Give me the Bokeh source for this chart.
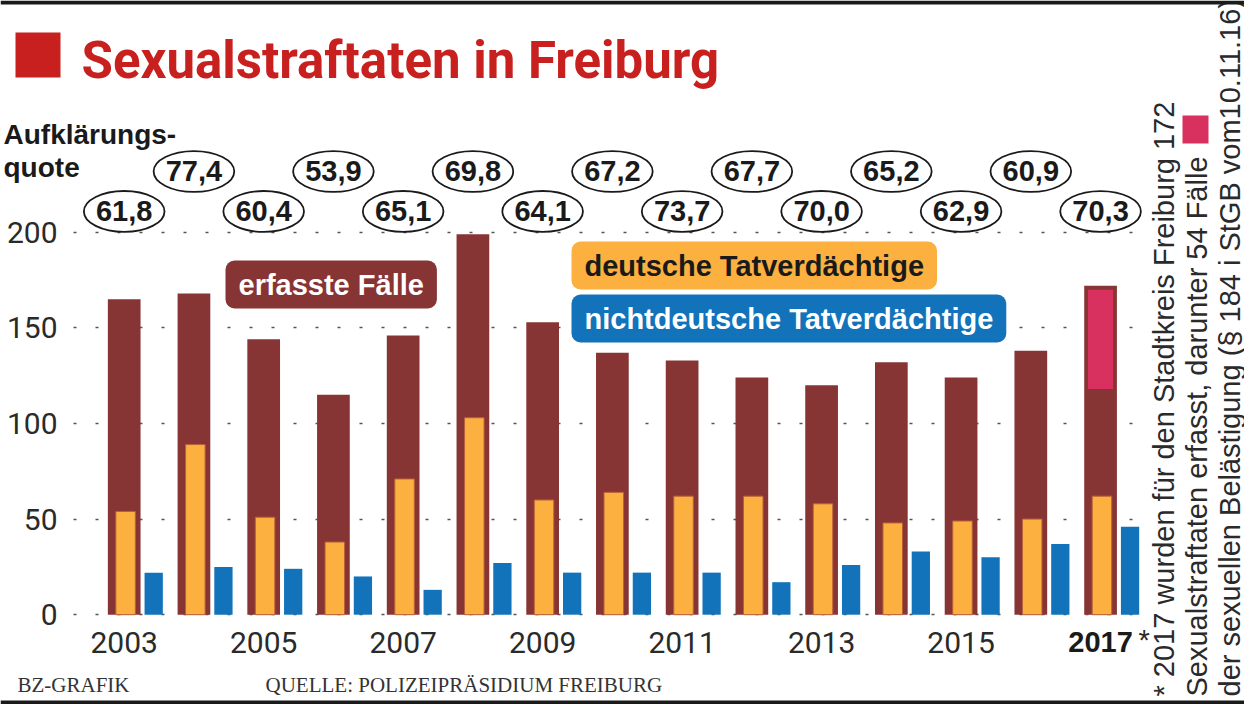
from math import pi
from bokeh.plotting import figure
from bokeh.models import Range1d, FixedTicker, Label, BoxAnnotation, ColumnDataSource, LinearAxis
from bokeh.embed import file_html
from bokeh.resources import INLINE
from bokeh.core.properties import value

# ---------------- data ----------------
years = list(range(2003, 2018))
erfasste_faelle = [165, 168, 144, 115, 146, 199, 153, 137, 133, 124, 120, 132, 124, 138, 172]
deutsche = [54, 89, 51, 38, 71, 103, 60, 64, 62, 62, 58, 48, 49, 50, 62]
nichtdeutsche = [22, 25, 24, 20, 13, 27, 22, 22, 22, 17, 26, 33, 30, 37, 46]
aufklaerungsquote = [61.8, 77.4, 60.4, 53.9, 65.1, 69.8, 64.1, 67.2, 73.7, 67.7, 70.0, 65.2, 62.9, 60.9, 70.3]
belaestigung_2017 = 54
x_tick_years = [2003, 2005, 2007, 2009, 2011, 2013, 2015]
y_ticks = [0, 50, 100, 150, 200]

title_text = "Sexualstraftaten in Freiburg"
quote_title = ["Aufklärungs-", "quote"]
legend_texts = ["erfasste Fälle", "deutsche Tatverdächtige", "nichtdeutsche Tatverdächtige"]
footnote = ["* 2017 wurden für den Stadtkreis Freiburg 172",
            "Sexualstraftaten erfasst, darunter 54 Fälle",
            "der sexuellen Belästigung (§ 184 i StGB vom10.11.16)"]
footer_left = "BZ-GRAFIK"
footer_right = "QUELLE: POLIZEIPRÄSIDIUM FREIBURG"

# ---------------- style ----------------
DARK = "#873434"
ORANGE = "#FBB040"
BLUE = "#1273BA"
PINK = "#D8305F"
RED = "#C8201E"
TXT = "#2a2a2a"
SANS = "Liberation Sans"
ROBOTO = "Roboto"
SERIF = "Liberation Serif"

W, H = 1244, 704
PX_YEAR = 69.74           # px per year
PX_UNIT = 1.912           # px per case
X_2003 = 123.7            # px of 2003 bar centre
Y_ZERO = 614.2            # px of zero line
x0 = 2003 - X_2003 / PX_YEAR
x1 = x0 + W / PX_YEAR
y1 = Y_ZERO / PX_UNIT
y0 = y1 - H / PX_UNIT


def xv(px):
    return x0 + px / PX_YEAR


p = figure(width=W, height=H, output_backend="svg", toolbar_location=None,
           x_range=Range1d(x0, x1), y_range=Range1d(y0, y1),
           min_border=0, title=None, x_axis_location=None, y_axis_location=None)
p.outline_line_color = None
p.background_fill_color = "white"
p.border_fill_color = "white"


def style_axis(ax, size="30px", bold=False):
    ax.axis_line_color = None
    ax.major_tick_line_color = None
    ax.minor_tick_line_color = None
    ax.major_label_text_font = ROBOTO if not bold else SANS
    ax.major_label_text_font_style = "bold" if bold else "normal"
    ax.major_label_text_font_size = size
    ax.major_label_text_color = TXT if not bold else "#1a1a1a"


yaxis = LinearAxis(ticker=FixedTicker(ticks=y_ticks), fixed_location=xv(73), major_label_standoff=10)
style_axis(yaxis)
p.add_layout(yaxis, "left")
xaxis = LinearAxis(ticker=FixedTicker(ticks=x_tick_years), fixed_location=0, major_label_standoff=11)
style_axis(xaxis)
p.add_layout(xaxis, "below")
xaxis17 = LinearAxis(ticker=FixedTicker(ticks=[years[-1]]), fixed_location=0, major_label_standoff=11)
style_axis(xaxis17, size="29px", bold=True)
p.add_layout(xaxis17, "below")

p.xgrid.visible = False
p.ygrid.visible = False
from bokeh.models import Grid
ygrid = Grid(dimension=1, ticker=FixedTicker(ticks=y_ticks), cross_bounds=(xv(73), xv(1146)),
             grid_line_color="#555555", grid_line_dash="3 19", grid_line_width=1.5)
p.add_layout(ygrid)

# bars
src = ColumnDataSource(dict(
    x=years, total=erfasste_faelle, de=deutsche, nde=nichtdeutsche,
    x_de=[y + 0.02 for y in years], x_nde=[y + 0.423 for y in years],
))
p.vbar(x="x", top="total", bottom=0, width=0.469, source=src,
       fill_color=DARK, line_color=None)
p.vbar(x="x_de", top="de", bottom=0, width=0.28, source=src,
       fill_color=ORANGE, line_color="#b8603a", line_width=1)
p.vbar(x="x_nde", top="nde", bottom=0, width=0.262, source=src,
       fill_color=BLUE, line_color=None)
# 2017: cases of sexual harassment (pink part)
p.vbar(x=[years[-1]], top=[erfasste_faelle[-1] - 2], bottom=[erfasste_faelle[-1] - belaestigung_2017],
       width=0.36, fill_color=PINK, line_color=None)

# Aufklärungsquote ellipses
levels = [210.9 if i % 2 == 0 else 231.8 for i in range(len(years))]
qsrc = ColumnDataSource(dict(x=years, y=levels,
                             t=[f"{q:.1f}".replace(".", ",") for q in aufklaerungsquote]))
p.ellipse(x="x", y="y", width=1.156, height=21.4, source=qsrc,
          fill_color="white", line_color="#1a1a1a", line_width=1.8)
p.text(x="x", y="y", text="t", source=qsrc, text_align="center", text_baseline="middle",
       text_font=value(SANS), text_font_style="bold", text_font_size="29px", text_color="#1a1a1a")


def lab(rx, ry, text, **kw):
    """position in canvas pixels from the top-left corner"""
    d = dict(x=rx, y=H - ry, x_units="screen", y_units="screen", text=text, text_baseline="middle")
    d.update(kw)
    p.add_layout(Label(**d))


def box(rx0, rx1, ry0, ry1, color):
    p.add_layout(BoxAnnotation(left=rx0, right=rx1, top=H - ry0, bottom=H - ry1,
                               left_units="screen", right_units="screen",
                               top_units="screen", bottom_units="screen",
                               fill_color=color, fill_alpha=1, line_color=None, level="overlay"))


# frame rules
box(0, W, 0, 4, "#1a1a1a")
box(0, W, 700, 704, "#1a1a1a")

# title
box(15, 60, 32, 77, RED)
lab(81, 77 - 0.34 * 51, title_text, text_font=ROBOTO, text_font_style="bold", text_font_size="51px",
    text_color=RED)

# Aufklärungsquote header
lab(3, 144 - 0.34 * 28, quote_title[0], text_font=SANS, text_font_style="bold", text_font_size="28px",
    text_color="#1a1a1a")
lab(3, 176.5 - 0.34 * 28, quote_title[1], text_font=SANS, text_font_style="bold", text_font_size="28px",
    text_color="#1a1a1a")

# legend boxes
pad = dict(left=13, right=13, top=8, bottom=8)
lab(225, 284, legend_texts[0], text_font=SANS, text_font_style="bold", text_font_size="29px",
    text_color="white", background_fill_color=DARK, padding=pad, border_radius=9)
lab(571, 265, legend_texts[1], text_font=SANS, text_font_style="bold", text_font_size="29px",
    text_color="#1a1a1a", background_fill_color=ORANGE, padding=pad, border_radius=9)
lab(571, 318, legend_texts[2], text_font=SANS, text_font_style="bold", text_font_size="29px",
    text_color="white", background_fill_color=BLUE, padding=pad, border_radius=9)

# asterisk after 2017
lab(1138, 639, "*", text_font=SANS, text_font_size="29px", text_color=TXT)

# footnote (rotated)
for cx, line in zip([1163, 1196, 1229], footnote):
    lab(cx, 696, line, angle=pi / 2, text_align="left",
        text_font=SANS, text_font_size="29px", text_color=TXT)
box(1182, 1208, 115, 143, PINK)

# footer
lab(17, 692 - 0.34 * 21, footer_left, text_font=SERIF, text_font_size="21px", text_color="#333333")
lab(265, 692 - 0.34 * 21, footer_right, text_font=SERIF, text_font_size="21px", text_color="#333333")

open("out.html", "w").write(file_html(p, INLINE))
